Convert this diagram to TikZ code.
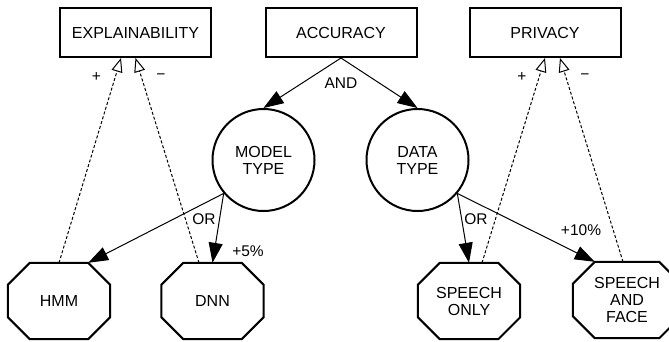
\documentclass[tikz,border=0pt]{standalone}
\usepackage{fontspec}
\setmainfont{Liberation Sans}
\usetikzlibrary{arrows.meta}
\begin{document}
\begin{tikzpicture}[x=1pt,y=-1pt,
  goalbox/.style={draw,line width=2pt,minimum width=151pt,minimum height=49pt,inner sep=0pt,font=\fontsize{16}{17}\selectfont},
  choice/.style={draw,circle,line width=2pt,minimum size=102pt,inner sep=0pt,align=center,font=\fontsize{16}{17}\selectfont},
  octnode/.style={minimum width=102pt,minimum height=76pt,inner sep=0pt,align=center,font=\fontsize{16}{17}\selectfont},
  lbl/.style={inner sep=0pt,font=\fontsize{15.5}{16}\selectfont},
  solidarrow/.style={line width=1pt,-{Triangle[length=20pt,width=14pt]}},
  contrib/.style={line width=1pt,dash pattern=on 3pt off 2pt,-{Triangle[open,length=14pt,width=11pt,line width=1pt]}}
]
\useasboundingbox (0,0) rectangle (669,341);
\node[goalbox] (expl) at (135.5,32.5) {EXPLAINABILITY};
\node[goalbox] (acc) at (341,32.5) {ACCURACY};
\node[goalbox] (priv) at (545,32.5) {PRIVACY};
\node[choice] (model) at (263.5,160) {MODEL\\TYPE};
\node[choice] (data) at (417.5,160) {DATA\\TYPE};
\node[octnode] (hmm) at (59,301) {HMM};
\node[octnode] (dnn) at (212.5,301) {DNN};
\node[octnode] (so) at (469,301) {SPEECH\\ONLY};
\node[octnode,minimum width=108pt] (saf) at (627,300) {SPEECH\\AND\\FACE};
\foreach \n in {hmm,dnn,so,saf}{
  \draw[line width=2pt] ([xshift=22pt]\n.north west) -- ([xshift=-22pt]\n.north east)
    -- ([yshift=-22pt]\n.north east) -- ([yshift=22pt]\n.south east)
    -- ([xshift=-22pt]\n.south east) -- ([xshift=22pt]\n.south west)
    -- ([yshift=22pt]\n.south west) -- ([yshift=-22pt]\n.north west) -- cycle;
}
\draw[solidarrow] (acc.south) -- (model.north);
\draw[solidarrow] (acc.south) -- (data.north);
\draw[solidarrow] (model.220) -- ([xshift=-22pt]hmm.north east);
\draw[solidarrow] (model.220) -- (dnn.north);
\draw[solidarrow] (data.320) -- (so.north);
\draw[solidarrow] (data.320) -- ([xshift=22pt]saf.north west);
\draw[contrib] (hmm.north) -- ([xshift=-14.5pt]expl.south);
\draw[contrib] ([xshift=-13.5pt]dnn.north) -- (expl.south);
\draw[contrib] ([xshift=13pt]so.north) -- (priv.south);
\draw[contrib] ([xshift=-4pt]saf.north) -- ([xshift=15pt]priv.south);
\node[lbl] (andl) at (341,83) {AND};
\node[lbl] (orl) at (204,219.5) {OR};
\node[lbl] (fivel) at (248,251.5) {+5\%};
\node[lbl] (orr) at (476,219) {OR};
\node[lbl] (tenl) at (581,230) {+10\%};
\node[lbl] (pe) at (96.5,77) {+};
\node[lbl] (me) at (161,77) {−};
\node[lbl] (pp) at (522,77) {+};
\node[lbl] (mp) at (585,77) {−};
\end{tikzpicture}
\end{document}
